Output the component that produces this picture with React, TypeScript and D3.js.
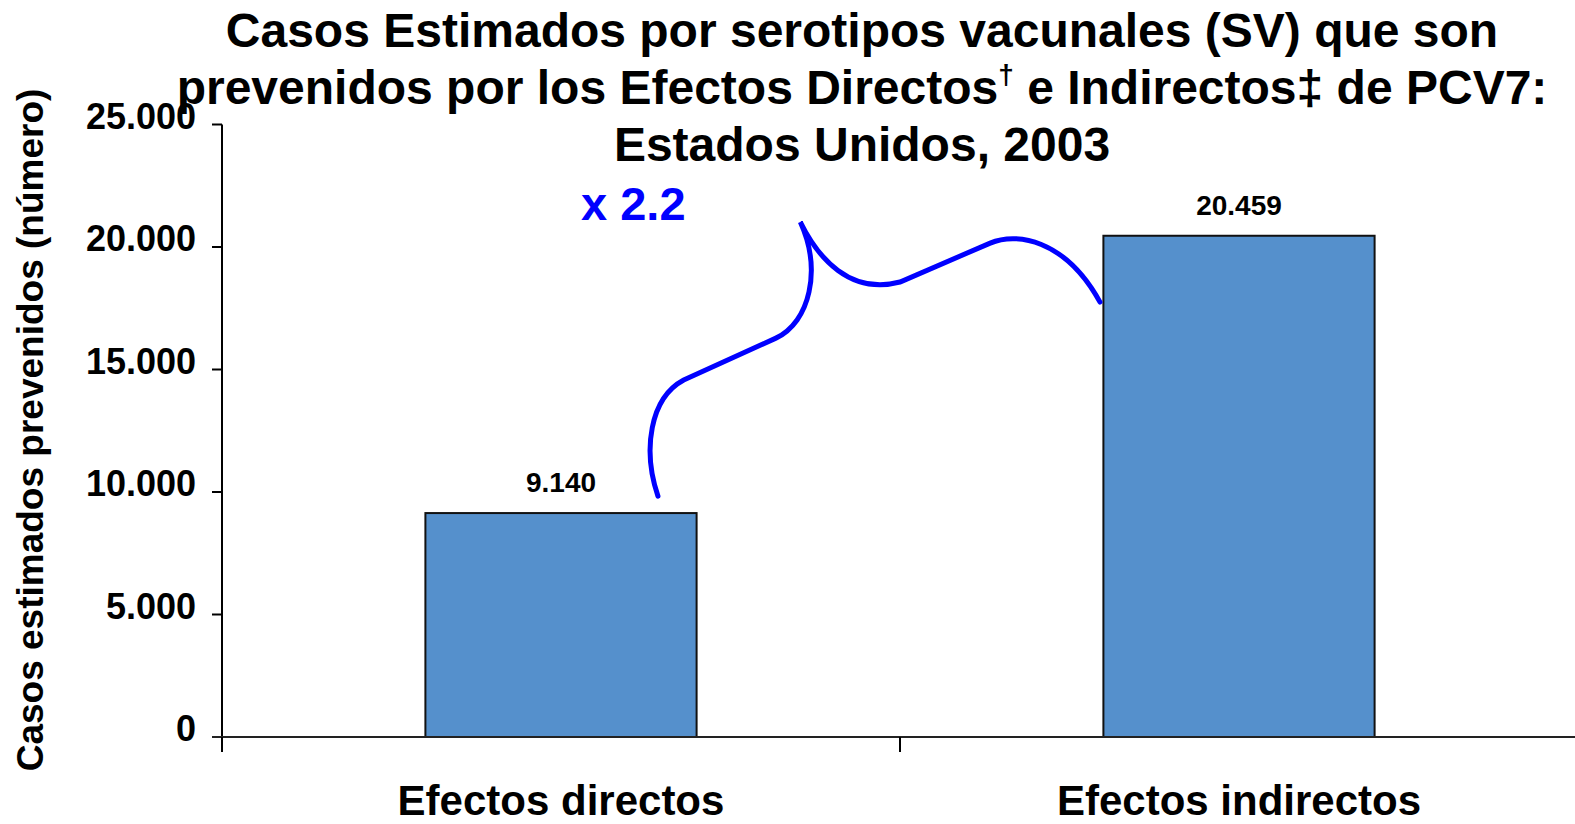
import React from "react";
import * as d3 from "d3";

const categories = ["Efectos directos", "Efectos indirectos"];
const values = [9140, 20459];
const valueLabels = ["9.140", "20.459"];
const yTicks = [0, 5000, 10000, 15000, 20000, 25000];
const yTickLabels = ["0", "5.000", "10.000", "15.000", "20.000", "25.000"];
const titleLine1 = "Casos Estimados por serotipos vacunales (SV) que son";
const titleLine2a = "prevenidos por los Efectos Directos";
const titleLine2sup = "†";
const titleLine2b = " e Indirectos‡ de PCV7:";
const titleLine3 = "Estados Unidos, 2003";
const yAxisTitle = "Casos estimados prevenidos (número)";
const multiplierLabel = "x 2.2";

// Brace annotation, in [category units, value units]
const braceStart: [number, number] = [0.643, 9830];
const braceSegments: { type: string; pts: [number, number][] }[] = [
  { type: "C", pts: [[0.62, 11710], [0.631, 13830], [0.681, 14570]] },
  { type: "L", pts: [[0.817, 16280]] },
  { type: "C", pts: [[0.867, 16935], [0.885, 19060], [0.853, 21020]] },
  { type: "C", pts: [[0.879, 19550], [0.926, 18040], [1.0, 18570]] },
  { type: "L", pts: [[1.133, 20160]] },
  { type: "C", pts: [[1.17, 20610], [1.243, 20365], [1.295, 17750]] },
];

const W = 1575;
const H = 824;
const FONT = "'Liberation Sans', Arial, Helvetica, sans-serif";

export default function App() {
  const x0 = 222;
  const x1 = 1578;
  const yBase = 737;
  const yTop = 124.5;

  const x = d3.scaleBand<string>().domain(categories).range([x0, x1]).paddingInner(0.6).paddingOuter(0.3);
  const xu = d3.scaleLinear().domain([0, 2]).range([x0, x1]);
  const y = d3.scaleLinear().domain([0, 25000]).range([yBase, yTop]);

  const p = d3.path();
  p.moveTo(xu(braceStart[0]), y(braceStart[1]));
  braceSegments.forEach((s) => {
    const q = s.pts.map(([u, v]) => [xu(u), y(v)]);
    if (s.type === "L") p.lineTo(q[0][0], q[0][1]);
    else p.bezierCurveTo(q[0][0], q[0][1], q[1][0], q[1][1], q[2][0], q[2][1]);
  });

  const titleX = 862;

  return (
    <svg
      width={W}
      height={H}
      viewBox={`0 0 ${W} ${H}`}
      style={{ position: "absolute", left: 0, top: 0, background: "#fff" }}
      fontFamily={FONT}
      fontWeight="bold"
    >
      <rect x={0} y={0} width={W} height={H} fill="#fff" />

      {/* y axis title */}
      <text
        transform={`translate(43, ${430}) rotate(-90)`}
        textAnchor="middle"
        fontSize={37}
        fill="#000"
      >
        {yAxisTitle}
      </text>

      {/* y ticks & labels */}
      {yTicks.map((t, i) => (
        <g key={t}>
          <line x1={x0 - 10} x2={x0} y1={y(t)} y2={y(t)} stroke="#000" strokeWidth={2} />
          <text x={196} y={y(t) + 4} textAnchor="end" fontSize={36} fill="#000">
            {yTickLabels[i]}
          </text>
        </g>
      ))}

      {/* bars */}
      {categories.map((c, i) => (
        <g key={c}>
          <rect
            x={x(c)!}
            y={y(values[i])}
            width={x.bandwidth()}
            height={yBase - y(values[i])}
            fill="#5590CC"
            stroke="#111"
            strokeWidth={2}
          />
          <text
            x={x(c)! + x.bandwidth() / 2}
            y={y(values[i]) - 21}
            textAnchor="middle"
            fontSize={28}
            fill="#000"
          >
            {valueLabels[i]}
          </text>
          <text
            x={x(c)! + x.bandwidth() / 2}
            y={815}
            textAnchor="middle"
            fontSize={42}
            fill="#000"
          >
            {c}
          </text>
        </g>
      ))}

      {/* axes */}
      <line x1={x0} x2={x0} y1={yTop} y2={yBase + 15} stroke="#000" strokeWidth={2} />
      <line x1={x0 - 10} x2={W} y1={yBase} y2={yBase} stroke="#222" strokeWidth={2} />
      {[0, 1].map((k) => (
        <line
          key={k}
          x1={xu(k)}
          x2={xu(k)}
          y1={yBase}
          y2={yBase + 15}
          stroke="#000"
          strokeWidth={2}
        />
      ))}

      {/* brace annotation */}
      <path d={p.toString()} fill="none" stroke="#0000FF" strokeWidth={5} strokeLinecap="round" />
      <text x={581} y={220} fontSize={47} fill="#0000FF">
        {multiplierLabel}
      </text>

      {/* title */}
      <text x={titleX} y={47} textAnchor="middle" fontSize={48} fill="#000">
        {titleLine1}
      </text>
      <text x={titleX} y={104} textAnchor="middle" fontSize={48} fill="#000">
        {titleLine2a}
        <tspan dy={-20} fontSize={28}>
          {titleLine2sup}
        </tspan>
        <tspan dy={20}>{titleLine2b}</tspan>
      </text>
      <text x={titleX} y={161} textAnchor="middle" fontSize={48} fill="#000">
        {titleLine3}
      </text>
    </svg>
  );
}
